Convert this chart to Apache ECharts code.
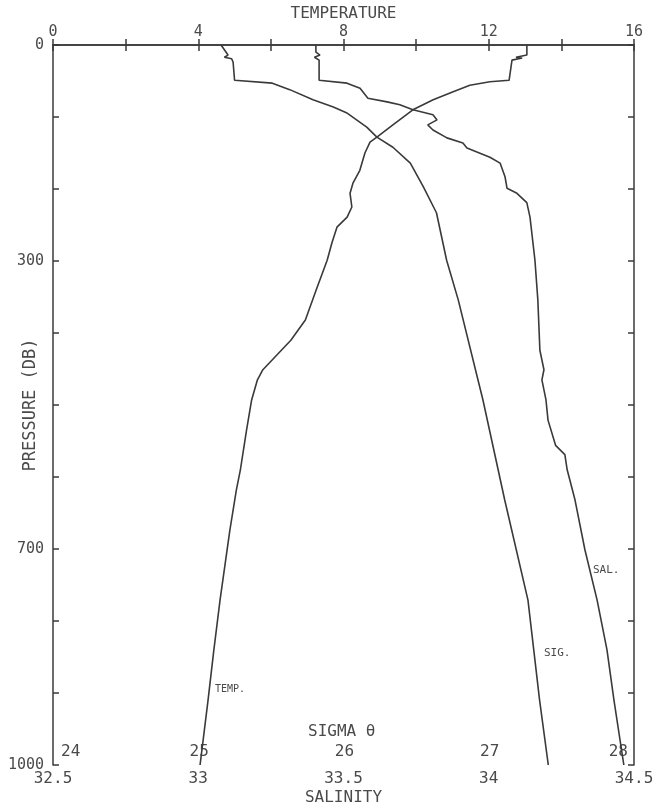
<!DOCTYPE html>
<html>
<head>
<meta charset="utf-8">
<script src="https://cdn.jsdelivr.net/npm/echarts@6/dist/echarts.min.js"></script>
<style>
html,body{margin:0;padding:0;background:#fff;}
#chart{width:663px;height:808px;}
</style>
</head>
<body>
<div id="chart"></div>
<script>
// Pressure (dbar) for each profile point
const tempPressure = [0,14,17,18,21,49,51,56,65,76,90,111,128,135,150,174,192,206,225,239,253,275,299,340,382,410,451,465,493,535,590,618,674,771,840,910,1000];
const tempValues   = [13.05,13.05,12.75,12.92,12.64,12.56,12.03,11.48,11.02,10.47,9.91,9.36,8.92,8.73,8.59,8.45,8.26,8.18,8.23,8.10,7.82,7.68,7.55,7.25,6.95,6.55,5.78,5.63,5.47,5.33,5.16,5.05,4.87,4.60,4.43,4.27,4.05];

const salPressure = [0,10,14,17,21,49,53,60,74,79,83,90,97,104,111,118,129,136,143,156,164,183,199,206,219,239,299,354,424,451,465,493,521,556,569,590,632,701,771,840,910,1000];
const salValues   = [33.405,33.405,33.419,33.40,33.416,33.416,33.512,33.557,33.584,33.65,33.694,33.739,33.808,33.822,33.79,33.808,33.856,33.911,33.925,34.004,34.039,34.056,34.063,34.097,34.131,34.142,34.159,34.169,34.176,34.19,34.183,34.197,34.204,34.23,34.262,34.27,34.297,34.331,34.373,34.407,34.431,34.465];

const sigPressure = [0,14,17,19,24,49,53,62,76,86,94,114,128,142,164,197,233,299,354,493,632,771,910,1000];
const sigValues   = [25.157,25.205,25.18,25.23,25.24,25.25,25.51,25.63,25.79,25.93,26.02,26.16,26.23,26.34,26.46,26.55,26.64,26.71,26.79,26.96,27.11,27.27,27.35,27.41];

// Axis tick labels
const pressureLabels = [0, 300, 700, 1000];
const tempLabels = [0, 4, 8, 12, 16];
const salLabels = ['32.5', '33', '33.5', '34', '34.5'];
const sigmaLabels = [24, 25, 26, 27, 28];

const INK = '#3a3a3a';
const TXT = '#4a4a4a';
const FONT = 'DejaVu Sans Mono';

function pairs(xs, ps) { return xs.map((v, i) => [v, ps[i]]); }

const chart = echarts.init(document.getElementById('chart'), null, {renderer: 'canvas'});

const axisLineStyle = {show: true, lineStyle: {color: INK, width: 1.5}};
const tickStyle = {show: true, inside: true, length: 6, lineStyle: {color: INK, width: 1.5}};

chart.setOption({
  animation: false,
  backgroundColor: '#ffffff',
  grid: {left: 53, right: 29, top: 45, bottom: 43, containLabel: false, outerBoundsMode: 'none'},
  xAxis: [
    {
      type: 'value', position: 'top', min: 0, max: 16, interval: 2,
      axisLine: axisLineStyle, axisTick: tickStyle, splitLine: {show: false},
      axisLabel: {
        color: TXT, fontFamily: FONT, fontSize: 15, margin: 5,
        formatter: v => tempLabels.indexOf(v) >= 0 ? String(v) : ''
      },
      name: 'TEMPERATURE', nameLocation: 'middle', nameGap: 23, nameMoveOverlap: false,
      nameTextStyle: {color: TXT, fontFamily: FONT, fontSize: 16}
    },
    {
      type: 'value', position: 'bottom', min: 32.5, max: 34.5, interval: 0.25,
      axisLine: axisLineStyle, axisTick: tickStyle, splitLine: {show: false},
      axisLabel: {
        color: TXT, fontFamily: FONT, fontSize: 16, margin: 6,
        formatter: v => { const s = String(Math.round(v * 100) / 100); return salLabels.indexOf(s) >= 0 ? s : ''; }
      },
      name: 'SALINITY', nameLocation: 'middle', nameGap: 25, nameMoveOverlap: false,
      nameTextStyle: {color: TXT, fontFamily: FONT, fontSize: 16}
    },
    {
      type: 'value', position: 'bottom', min: 24, max: 28, interval: 1,
      axisLine: {show: false}, axisTick: {show: false}, splitLine: {show: false},
      axisLabel: {
        inside: true, color: TXT, fontFamily: FONT, fontSize: 16, margin: 5,
        alignMinLabel: 'left', alignMaxLabel: 'right',
        padding: [0, 6, 0, 8],
        formatter: v => sigmaLabels.indexOf(v) >= 0 ? String(v) : ''
      }
    }
  ],
  yAxis: [
    {
      type: 'value', inverse: true, position: 'left', min: 0, max: 1000, interval: 100,
      axisLine: axisLineStyle, axisTick: tickStyle, splitLine: {show: false},
      axisLabel: {
        color: TXT, fontFamily: FONT, fontSize: 15, margin: 9,
        formatter: v => pressureLabels.indexOf(v) >= 0 ? String(v) : ''
      },
      name: 'PRESSURE (DB)', nameLocation: 'middle', nameGap: 14, nameRotate: 90, nameMoveOverlap: false,
      nameTextStyle: {color: TXT, fontFamily: FONT, fontSize: 17}
    },
    {
      type: 'value', inverse: true, position: 'right', min: 0, max: 1000, interval: 100,
      axisLine: axisLineStyle, axisTick: tickStyle, splitLine: {show: false},
      axisLabel: {show: false}
    }
  ],
  graphic: [
    {type: 'text', left: 308, top: 724, style: {text: 'SIGMA θ', fill: TXT, font: '16px "DejaVu Sans Mono"'}},
    {type: 'text', left: 215, top: 684, style: {text: 'TEMP.', fill: TXT, font: '10px "DejaVu Sans Mono"'}},
    {type: 'text', left: 544, top: 648, style: {text: 'SIG.', fill: TXT, font: '11px "DejaVu Sans Mono"'}},
    {type: 'text', left: 593, top: 565, style: {text: 'SAL.', fill: TXT, font: '11px "DejaVu Sans Mono"'}}
  ],
  series: [
    {
      name: 'Temperature', type: 'line', xAxisIndex: 0, yAxisIndex: 0,
      data: pairs(tempValues, tempPressure), showSymbol: false, symbol: 'none',
      lineStyle: {color: INK, width: 1.6}
    },
    {
      name: 'Salinity', type: 'line', xAxisIndex: 1, yAxisIndex: 0,
      data: pairs(salValues, salPressure), showSymbol: false, symbol: 'none',
      lineStyle: {color: INK, width: 1.6}
    },
    {
      name: 'Sigma theta', type: 'line', xAxisIndex: 2, yAxisIndex: 0,
      data: pairs(sigValues, sigPressure), showSymbol: false, symbol: 'none',
      lineStyle: {color: INK, width: 1.6}
    }
  ]
});
</script>
</body>
</html>
